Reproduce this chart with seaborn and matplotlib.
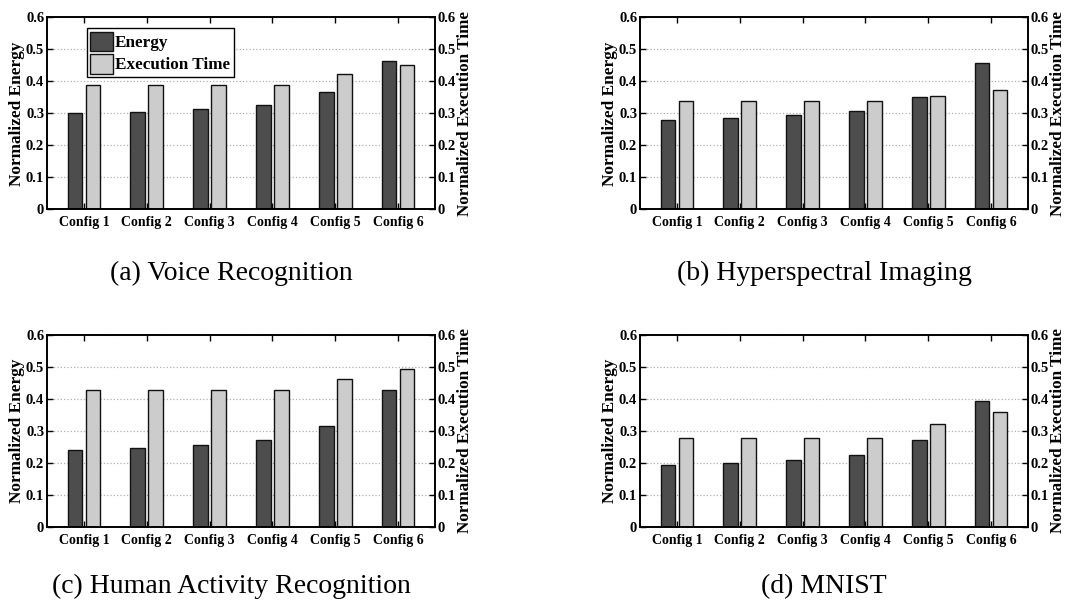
import pandas as pd
import matplotlib
matplotlib.use('Agg')
import matplotlib.pyplot as plt
import seaborn as sns

configs = ['Config 1', 'Config 2', 'Config 3', 'Config 4', 'Config 5', 'Config 6']

# values
voice_energy = [0.300, 0.304, 0.313, 0.326, 0.366, 0.465]
voice_time = [0.388, 0.388, 0.388, 0.388, 0.422, 0.451]

hyper_energy = [0.281, 0.285, 0.295, 0.309, 0.352, 0.459]
hyper_time = [0.339, 0.339, 0.339, 0.339, 0.356, 0.372]

har_energy = [0.241, 0.246, 0.256, 0.271, 0.316, 0.428]
har_time = [0.428, 0.428, 0.428, 0.428, 0.463, 0.492]

mnist_energy = [0.193, 0.199, 0.208, 0.225, 0.272, 0.392]
mnist_time = [0.277, 0.277, 0.277, 0.277, 0.321, 0.357]

captions = ['(a) Voice Recognition', '(b) Hyperspectral Imaging',
            '(c) Human Activity Recognition', '(d) MNIST']

y_ticks = [0, 0.1, 0.2, 0.3, 0.4, 0.5, 0.6]
y_tick_labels = ['0', '0.1', '0.2', '0.3', '0.4', '0.5', '0.6']

sns.set_style('ticks')
plt.rcParams['font.family'] = ['Liberation Serif', 'DejaVu Serif']
plt.rcParams['font.weight'] = 'bold'
plt.rcParams['xtick.direction'] = 'in'
plt.rcParams['ytick.direction'] = 'in'
plt.rcParams['text.color'] = 'black'
plt.rcParams['axes.labelcolor'] = 'black'
plt.rcParams['xtick.color'] = 'black'
plt.rcParams['ytick.color'] = 'black'

palette = {'Energy': '#4d4d4d', 'Execution Time': '#cccccc'}

fig = plt.figure(figsize=(10.86, 6.02), dpi=100)

# axes rectangles (left, bottom, width, height) in figure fraction
boxes = [
    [0.0433, 0.652, 0.3573, 0.319],
    [0.5893, 0.652, 0.3573, 0.319],
    [0.0433, 0.125, 0.3573, 0.319],
    [0.5893, 0.125, 0.3573, 0.319],
]
caption_pos = [(0.213, 0.545), (0.759, 0.545), (0.213, 0.026), (0.759, 0.026)]

panels = [(voice_energy, voice_time), (hyper_energy, hyper_time),
          (har_energy, har_time), (mnist_energy, mnist_time)]

for i, (energy, exec_time) in enumerate(panels):
    df = pd.DataFrame({
        'config': configs * 2,
        'metric': ['Energy'] * 6 + ['Execution Time'] * 6,
        'value': energy + exec_time,
    })
    ax = fig.add_axes(boxes[i])
    sns.barplot(data=df, x='config', y='value', hue='metric', palette=palette,
                width=0.572, gap=0.185, edgecolor='#111111', linewidth=1.0,
                saturation=1, ax=ax, legend=(i == 0))
    ax.set_xlim(-0.587, 5.587)
    ax.set_ylim(0, 0.6)
    ax.set_yticks(y_ticks)
    ax.set_yticklabels(y_tick_labels, fontsize=10.5, fontweight='bold')
    ax.set_xticks(range(6))
    ax.set_xticklabels(configs, fontsize=10, fontweight='bold')
    ax.tick_params(axis='x', top=True, length=4, width=1, pad=5)
    ax.tick_params(axis='y', length=4, width=1, pad=2)
    ax.set_xlabel('')
    ax.set_ylabel('Normalized Energy', fontsize=12.4, fontweight='bold', labelpad=1)
    ax.grid(axis='y', linestyle=':', color='#b0b0b0', linewidth=0.9)
    ax.set_axisbelow(True)
    for s in ax.spines.values():
        s.set_linewidth(1.2)
        s.set_visible(True)
        s.set_color('black')

    # right axis for execution time
    ax2 = ax.twinx()
    ax2.set_ylim(0, 0.6)
    ax2.set_yticks(y_ticks)
    ax2.set_yticklabels(y_tick_labels, fontsize=10.5, fontweight='bold')
    ax2.tick_params(axis='y', direction='in', length=4, width=1, pad=2)
    ax2.set_ylabel('Normalized Execution Time', fontsize=12.3, fontweight='bold', labelpad=1)
    for s in ax2.spines.values():
        s.set_linewidth(1.2)
        s.set_color('black')

    if i == 0:
        leg = ax.legend(loc='upper left', bbox_to_anchor=(0.103, 0.944), borderaxespad=0,
                        prop={'size': 12.3, 'weight': 'bold'}, frameon=True, fancybox=False,
                        handlelength=1.3, handleheight=1.4, handletextpad=0.15,
                        labelspacing=0.15, borderpad=0.2)
        leg.get_frame().set_edgecolor('black')
        leg.get_frame().set_linewidth(1.0)
        leg.get_frame().set_alpha(1)

    fig.text(caption_pos[i][0], caption_pos[i][1], captions[i], fontsize=20,
             fontweight='normal', ha='center', va='center')

plt.savefig('out.png', dpi=100)
